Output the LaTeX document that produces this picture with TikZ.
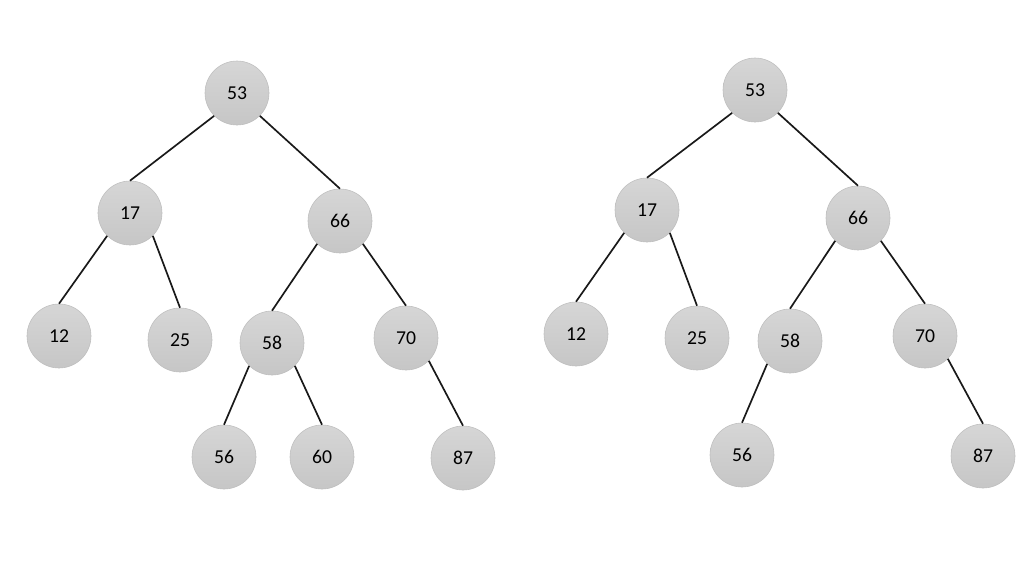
\documentclass[tikz,border=0pt]{standalone}
\usepackage{fontspec}
\setmainfont{Carlito}
\usepackage{tikz}
\definecolor{nodegray}{RGB}{198,198,198}
\definecolor{nodetop}{RGB}{214,214,214}
\definecolor{edgegray}{RGB}{190,190,190}
\tikzset{
  keynode/.style={
    circle,
    draw=edgegray,
    top color=nodetop,
    bottom color=nodegray,
    minimum size=1.6cm,
    inner sep=0pt,
    font=\fontsize{14}{16}\selectfont
  },
  link/.style={line width=1.2pt, draw=black!90}
}

\begin{document}
\begin{tikzpicture}[x=0.025cm, y=-0.025cm]
    \useasboundingbox (0,0) rectangle (1024,574);
    % left tree
    \node[keynode] (l53) at (237,93) {53};
    \node[keynode] (l17) at (130,213) {17};
    \node[keynode] (l66) at (340,221) {66};
    \node[keynode] (l12) at (59,336) {12};
    \node[keynode] (l25) at (180,340) {25};
    \node[keynode] (l58) at (272,343) {58};
    \node[keynode] (l70) at (406,338) {70};
    \node[keynode] (l56) at (224,457) {56};
    \node[keynode] (l60) at (322,457) {60};
    \node[keynode] (l87) at (463,458) {87};
    \draw[link] (l53.south west) -- (l17.north);
    \draw[link] (l53.south east) -- (l66.north);
    \draw[link] (l17.south west) -- (l12.north);
    \draw[link] (l17.south east) -- (l25.north);
    \draw[link] (l66.south west) -- (l58.north);
    \draw[link] (l66.south east) -- (l70.north);
    \draw[link] (l58.south west) -- (l56.north);
    \draw[link] (l58.south east) -- (l60.north);
    \draw[link] (l70.south east) -- (l87.north);
    % right tree
    \node[keynode] (r53) at (755,90) {53};
    \node[keynode] (r17) at (647,210) {17};
    \node[keynode] (r66) at (858,218) {66};
    \node[keynode] (r12) at (576,334) {12};
    \node[keynode] (r25) at (697,338) {25};
    \node[keynode] (r58) at (790,341) {58};
    \node[keynode] (r70) at (925,336) {70};
    \node[keynode] (r56) at (742,455) {56};
    \node[keynode] (r87) at (983,456) {87};
    \draw[link] (r53.south west) -- (r17.north);
    \draw[link] (r53.south east) -- (r66.north);
    \draw[link] (r17.south west) -- (r12.north);
    \draw[link] (r17.south east) -- (r25.north);
    \draw[link] (r66.south west) -- (r58.north);
    \draw[link] (r66.south east) -- (r70.north);
    \draw[link] (r58.south west) -- (r56.north);
    \draw[link] (r70.south east) -- (r87.north);
  \end{tikzpicture}
\end{document}
